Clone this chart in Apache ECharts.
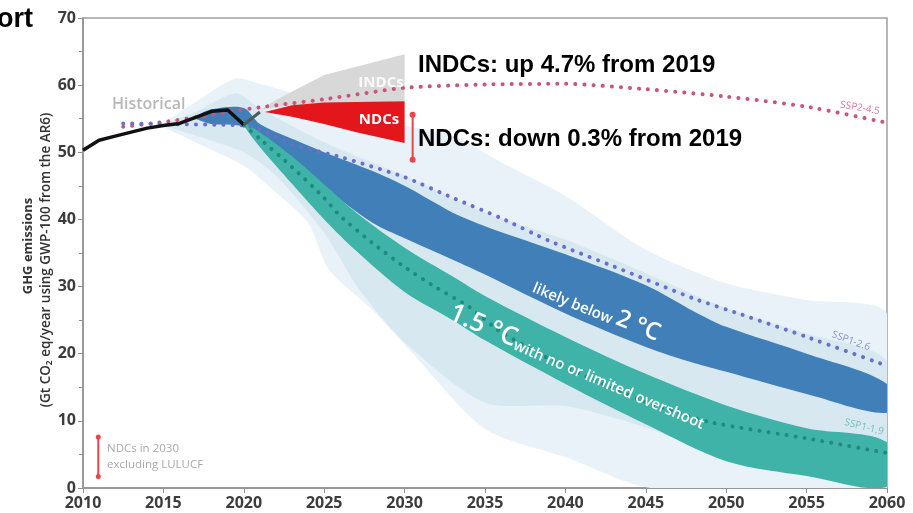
<!DOCTYPE html>
<html>
<head>
<meta charset="utf-8">
<title>GHG emissions pathways</title>
<script src="https://cdn.jsdelivr.net/npm/echarts@6.0.0/dist/echarts.min.js"></script>
<style>
  html, body { margin: 0; padding: 0; background: #fff; }
  #chart { width: 913px; height: 513px; }
</style>
</head>
<body>
<div id="chart"></div>
<script>
// axis ticks
const xTicks = [2010, 2060, 5];
const yTicks = [0, 70, 10];

// historical emissions (Gt CO2 eq/yr)
const historical = [[2010, 50.3], [2011, 51.8], [2012, 52.4], [2013, 53.0], [2014, 53.6], [2015, 54.0],
  [2016, 54.3], [2017, 55.2], [2018, 56.1], [2019, 56.3], [2020, 54.1]];
const historicalEst = [[2020, 54.1], [2021, 56.0]];

// scenario medians (dotted)
const ssp245 = [[2012.5, 53.8], [2015, 54.5], [2017, 55.2], [2019, 56.0], [2021, 56.7], [2025, 57.9], [2030, 59.6],
  [2035, 60.1], [2040, 60.2], [2045, 59.4], [2050, 58.3], [2055, 56.8], [2060, 54.4]];
const ssp126 = [[2012.5, 54.3], [2015, 54.2], [2020, 54.0], [2021, 53.4], [2023, 51.2], [2026, 49.3], [2030, 46.3],
  [2033, 43.2], [2036, 40.2], [2039, 36.8], [2043, 33.0], [2048, 28.2], [2051, 25.8], [2055, 22.5], [2060, 18.2]];
const ssp119 = [[2020, 54.0], [2021, 52.0], [2023, 47.8], [2025, 43.2], [2026, 40.5], [2028, 36.5], [2030, 32.9],
  [2032, 29.8], [2034, 27.0], [2036, 23.2], [2040, 18.0], [2045, 12.8], [2049, 9.8], [2055, 7.4], [2060, 5.2]];

// likely below 2 °C band
const c2Upper = [[2017, 55.3], [2018, 56.4], [2020, 56.6], [2021, 54.2], [2023, 52.0], [2025, 50.0], [2028, 47.2],
  [2030, 45.0], [2033, 41.0], [2035, 39.0], [2040, 34.8], [2045, 30.2], [2048, 26.3], [2050, 24.0], [2055, 20.0], [2060, 15.5]];
const c2Lower = [[2017, 55.0], [2018, 54.2], [2020, 53.8], [2021, 51.5], [2023, 48.3], [2025, 44.8], [2028, 39.5],
  [2030, 37.2], [2033, 34.0], [2035, 31.8], [2040, 26.0], [2045, 21.0], [2048, 18.6], [2050, 17.3], [2055, 14.0], [2060, 11.2]];

// 1.5 °C band
const c15Upper = [[2020, 54.4], [2021, 53.0], [2023, 49.4], [2025, 45.2], [2027, 41.0], [2030, 35.8], [2033, 31.5],
  [2035, 28.6], [2040, 22.5], [2045, 17.0], [2050, 12.3], [2055, 8.9], [2060, 6.8]];
const c15Lower = [[2020, 54.0], [2021, 50.8], [2023, 45.3], [2025, 40.0], [2027, 35.3], [2030, 29.2], [2033, 25.0],
  [2035, 22.0], [2040, 15.5], [2045, 9.5], [2050, 4.0], [2055, 1.8], [2060, 0.2]];

// wider ranges (light shading)
const outerUpper = [[2015, 54.3], [2017, 57.5], [2019.5, 61.0], [2021, 60.2], [2023, 58.8], [2025, 57.0], [2030, 54.0],
  [2033, 52.5], [2036, 48.5], [2040, 43.5], [2045, 35.5], [2050, 30.5], [2055, 28.0], [2060, 26.0]];
const outerLower = [[2015, 53.8], [2017, 51.5], [2020, 48.0], [2022, 44.0], [2024, 39.5], [2025.3, 32.5], [2028, 26.5],
  [2030.3, 20.6], [2035, 8.8], [2040, 4.6], [2045.3, 0], [2060, 0]];
const innerUpper = [[2015, 54.2], [2017, 56.0], [2019.5, 58.8], [2021, 56.5], [2025, 51.5], [2030, 46.5], [2035, 41.0],
  [2040, 37.0], [2045, 32.0], [2050, 26.8], [2055, 23.0], [2060, 18.8]];
const innerLower = [[2015, 54.0], [2017, 52.5], [2020, 50.0], [2022, 46.5], [2025, 38.0], [2027.2, 29.5], [2030.1, 21.5],
  [2035, 12.7], [2040, 12.2], [2045, 9.0], [2050, 4.5], [2055, 2.0], [2060, 0.3]];

// INDCs / NDCs wedges
const indcUpper = [[2021, 56.3], [2022, 57.8], [2025, 61.5], [2030, 64.6]];
const indcLower = [[2021, 56.3], [2023, 57.0], [2030, 57.6]];
const ndcUpper = [[2021.3, 56.0], [2023, 57.0], [2025, 57.4], [2030, 57.6]];
const ndcLower = [[2021.3, 56.0], [2023, 55.3], [2025, 54.2], [2027, 53.0], [2030, 51.4]];

// NDCs in 2030 excluding LULUCF + legend marker
const ndcRange2030 = [[2030.5, 55.6], [2030.5, 48.9]];
const legendBar = [[2010.95, 7.6], [2010.95, 1.7]];

const chart = echarts.init(document.getElementById('chart'));

// filled polygon between two boundary lines
function band(name, upper, lower, color, smooth) {
  return {
    type: 'custom',
    name: name,
    silent: true,
    clip: true,
    data: [[2030, 30]],
    renderItem: function (params, api) {
      const pts = upper.map(p => api.coord(p))
        .concat(lower.slice().reverse().map(p => api.coord(p)));
      return { type: 'polygon', shape: { points: pts, smooth: smooth || 0 }, style: { fill: color } };
    }
  };
}

function dotted(name, data, color) {
  return {
    type: 'line',
    name: name,
    data: data,
    smooth: 0.2,
    showSymbol: false,
    silent: true,
    lineStyle: { color: color, width: 4, type: [0.1, 9], cap: 'round' }
  };
}

const font = '"Open Sans", "DejaVu Sans", sans-serif';
const mid = { align: 'center', textAlign: 'center', verticalAlign: 'middle', textVerticalAlign: 'middle' };

function label(x, y, text, fontSpec, fill, rotation, centred) {
  const style = Object.assign({ text: text, font: fontSpec, fill: fill },
    centred ? mid : { verticalAlign: 'middle', textVerticalAlign: 'middle' });
  return { type: 'text', x: x, y: y, rotation: rotation || 0, z: 100, silent: true, style: style };
}

function bandLabel(x, y, rotation, text, small, big) {
  return {
    type: 'text', x: x, y: y, rotation: rotation, z: 100, silent: true,
    style: Object.assign({
      text: text, fill: '#fff',
      rich: {
        a: { fontFamily: font, fontWeight: 600, fontSize: small, fill: '#fff', verticalAlign: 'bottom' },
        b: { fontFamily: font, fontWeight: 600, fontSize: big, fill: '#fff', verticalAlign: 'bottom' }
      }
    }, mid)
  };
}

const option = {
  animation: false,
  grid: { left: 83, right: 26, top: 18, bottom: 25, show: true, borderColor: '#a0a0a0', borderWidth: 1.5 },
  xAxis: {
    type: 'value', min: xTicks[0], max: xTicks[1], interval: xTicks[2],
    axisLine: { lineStyle: { color: '#909090', width: 1.5 } },
    axisTick: { length: 5, lineStyle: { color: '#909090' } },
    axisLabel: { color: '#3c3c3c', fontFamily: font, fontWeight: 'bold', fontSize: 16, margin: 7, formatter: v => String(v) },
    splitLine: { show: false }
  },
  yAxis: {
    type: 'value', min: yTicks[0], max: yTicks[1], interval: yTicks[2],
    axisLine: { show: true, lineStyle: { color: '#909090', width: 1.5 } },
    axisTick: { show: true, length: 5, lineStyle: { color: '#909090' } },
    minorTick: { show: true, splitNumber: 2, length: 4, lineStyle: { color: '#909090' } },
    axisLabel: { color: '#3c3c3c', fontFamily: font, fontWeight: 'bold', fontSize: 16, margin: 7 },
    splitLine: { show: false }
  },
  series: [
    band('outer range', outerUpper, outerLower, '#e8f2f8', 0.25),
    band('inner range', innerUpper, innerLower, '#d7e8f1', 0.25),
    band('INDCs', indcUpper, indcLower, '#d8d8d8'),
    band('NDCs', ndcUpper, ndcLower, '#e3161c'),
    band('likely below 2 °C', c2Upper, c2Lower, '#417fb9', 0.3),
    band('1.5 °C', c15Upper, c15Lower, '#40b3a8', 0.3),
    dotted('SSP2-4.5', ssp245, '#c8557f'),
    dotted('SSP1-2.6', ssp126, '#6c6fc8'),
    dotted('SSP1-1.9', ssp119, '#1f8a7f'),
    {
      type: 'line', name: 'Historical', data: historical, showSymbol: false, silent: true,
      lineStyle: { color: '#111', width: 3.5, join: 'round' }
    },
    {
      type: 'line', name: 'Historical est.', data: historicalEst, showSymbol: false, silent: true,
      lineStyle: { color: '#4d5a5a', width: 3 }
    },
    {
      type: 'line', name: 'NDCs 2030', data: ndcRange2030, symbol: 'circle', symbolSize: 6, silent: true,
      itemStyle: { color: '#e8464a' }, lineStyle: { color: '#e8464a', width: 2 }
    },
    {
      type: 'line', name: 'legend bar', data: legendBar, symbol: 'circle', symbolSize: 5, silent: true,
      itemStyle: { color: '#e8464a' }, lineStyle: { color: '#e8464a', width: 2 }
    }
  ],
  graphic: [
    { type: 'text', x: -3, y: 6, z: 100, style: { text: 'ort', font: 'bold 27px "Liberation Sans", Arial', fill: '#000' } },
    label(418, 65, 'INDCs: up 4.7% from 2019', 'bold 24px "Liberation Sans", Arial', '#000'),
    label(418, 139, 'NDCs: down 0.3% from 2019', 'bold 24px "Liberation Sans", Arial', '#000'),
    label(112, 104, 'Historical', '600 16px ' + font, '#b8b8b8'),
    label(381, 83, 'INDCs', 'bold 15px ' + font, 'rgba(255,255,255,0.9)', 0, true),
    label(379, 120, 'NDCs', 'bold 15px ' + font, '#fff', 0, true),
    bandLabel(597, 309, -0.39, '{a|likely below }{b|2 °C}', 15, 24),
    bandLabel(578, 366, -0.40, '{b|1.5 °C}{a|with no or limited overshoot}', 15, 26),
    label(860, 108, 'SSP2-4.5', '10px ' + font, '#cf7b9c', -0.17, true),
    label(851, 341, 'SSP1-2.6', '10px ' + font, '#8a90d2', -0.35, true),
    label(864, 427, 'SSP1-1.9', '10px ' + font, '#71c2b9', -0.25, true),
    label(28, 246, 'GHG emissions', 'bold 13px ' + font, '#333', Math.PI / 2, true),
    label(46, 260, '(Gt CO\u2082 eq/year using GWP-100 from the AR6)', '600 13.5px ' + font, '#333', Math.PI / 2, true),
    label(107, 449, 'NDCs in 2030', '11.5px ' + font, '#a9a9a9'),
    label(107, 465, 'excluding LULUCF', '11.5px ' + font, '#a9a9a9')
  ]
};

chart.setOption(option);
</script>
</body>
</html>
